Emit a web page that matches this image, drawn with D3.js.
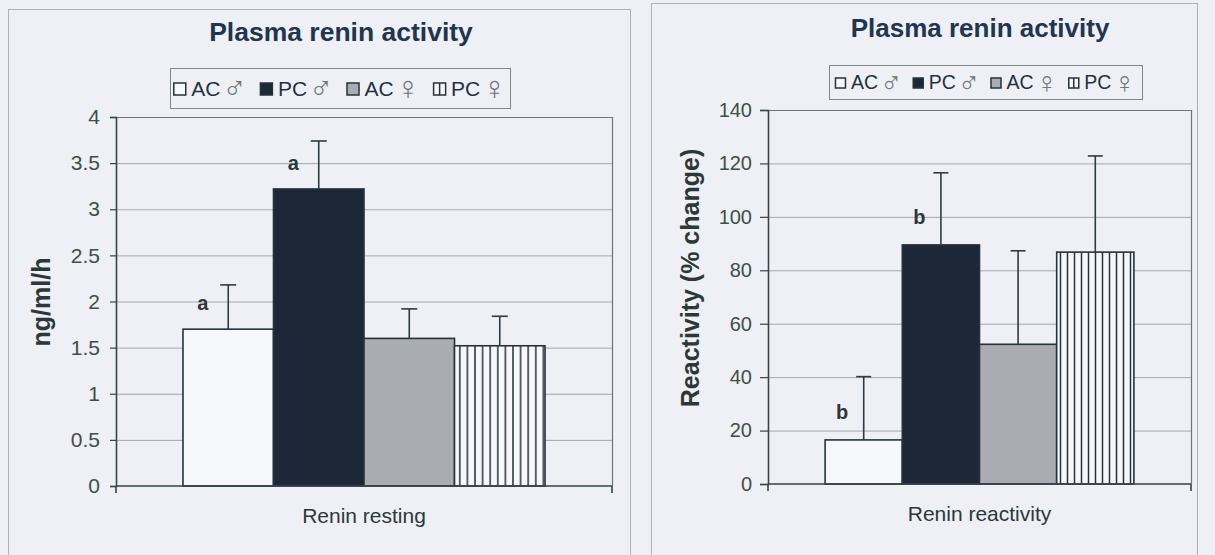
<!DOCTYPE html>
<html>
<head>
<meta charset="utf-8">
<script src="https://cdn.jsdelivr.net/npm/d3@7"></script>
<style>
  html, body { margin: 0; padding: 0; background: #eef0f6; }
  svg { display: block; }
  text { font-family: "Liberation Sans", Arial, Helvetica, sans-serif; }
</style>
</head>
<body>
<svg id="chart" width="1215" height="555"></svg>
<script>
// ---- data ----
const groupNames = ["AC", "PC", "AC", "PC"];
const groupSex = ["\u2642", "\u2642", "\u2640", "\u2640"];
const groupKeys = ["AC-m", "PC-m", "AC-f", "PC-f"];

// plasma renin activity at rest (ng/ml/h), mean and SE
const restingCategory = "Renin resting";
const restingMean = [1.70, 3.22, 1.60, 1.52];
const restingSE = [0.48, 0.52, 0.32, 0.32];
const restingLetters = ["a", "a", "", ""];
const restingTicks = [0, 0.5, 1, 1.5, 2, 2.5, 3, 3.5, 4];

// renin reactivity (% change), mean and SE
const reactCategory = "Renin reactivity";
const reactMean = [16.5, 89.5, 52.3, 86.8];
const reactSE = [23.7, 27.0, 35.0, 36.0];
const reactLetters = ["b", "b", "", ""];
const reactTicks = [0, 20, 40, 60, 80, 100, 120, 140];

const chartTitle = "Plasma renin activity";

// ---- styling ----
const C = {
  frame: "#aeb2b8",
  grid: "#a4a7ae",
  axis: "#34434c",
  border: "#6d767c",
  tick: "#3c4f47",
  title: "#1f3550",
  label: "#2c3838",
  barStroke: "#26323c",
  navy: "#1c2838",
  gray: "#a9acb1",
  white: "#f7f8fb",
  err: "#2e3a44",
  sex: "#6f7777"
};

const svg = d3.select("#chart");
const defs = svg.append("defs");

function addHatch(id, step) {
  const p = defs.append("pattern")
    .attr("id", id)
    .attr("patternUnits", "userSpaceOnUse")
    .attr("width", step).attr("height", 10);
  p.append("rect").attr("width", step).attr("height", 10).attr("fill", C.white);
  p.append("line")
    .attr("x1", step / 2).attr("x2", step / 2)
    .attr("y1", 0).attr("y2", 10)
    .attr("stroke", C.barStroke).attr("stroke-width", 1.5);
}
addHatch("hatchL", 7.6);
addHatch("hatchR", 7.0);

function fillFor(i, hatchId) {
  return [C.white, C.navy, C.gray, `url(#${hatchId})`][i];
}

function drawPanel(cfg) {
  const g = svg.append("g");

  // panel frame
  g.append("rect")
    .attr("x", cfg.frame.x + 0.5).attr("y", cfg.frame.y + 0.5)
    .attr("width", cfg.frame.w).attr("height", cfg.frame.h)
    .attr("fill", "none").attr("stroke", C.frame).attr("stroke-width", 1);

  const y = d3.scaleLinear().domain(cfg.domain).range([cfg.plot.y1, cfg.plot.y0]);
  const cat = d3.scaleBand().domain([cfg.category])
    .range([cfg.plot.x0, cfg.plot.x1]).paddingInner(0).paddingOuter(0.185);
  const x = d3.scaleBand().domain(groupKeys)
    .range([cat(cfg.category), cat(cfg.category) + cat.bandwidth()]).padding(0);
  const bw = x.bandwidth();

  // gridlines
  g.append("g").selectAll("line")
    .data(cfg.ticks.filter(t => t > cfg.domain[0] && t < cfg.domain[1]))
    .join("line")
    .attr("x1", cfg.plot.x0).attr("x2", cfg.plot.x1)
    .attr("y1", d => y(d) + 0.5).attr("y2", d => y(d) + 0.5)
    .attr("stroke", C.grid).attr("stroke-width", 1);

  // plot border (top/right)
  g.append("path")
    .attr("d", `M${cfg.plot.x0},${y(cfg.domain[1]) + 0.5}H${cfg.plot.x1 + 0.5}V${cfg.plot.y1}`)
    .attr("fill", "none").attr("stroke", C.border).attr("stroke-width", 1.2);

  // bars
  const rows = groupKeys.map((k, i) => ({
    key: k, i, mean: cfg.mean[i], se: cfg.se[i], letter: cfg.letters[i]
  }));
  g.append("g").selectAll("rect")
    .data(rows).join("rect")
    .attr("x", d => x(d.key)).attr("width", bw)
    .attr("y", d => y(d.mean)).attr("height", d => y(0) - y(d.mean))
    .attr("fill", d => fillFor(d.i, cfg.hatch))
    .attr("stroke", C.barStroke).attr("stroke-width", 1.6);

  // error bars (upper side)
  const eb = g.append("g").attr("stroke", C.err).attr("stroke-width", 1.6);
  eb.selectAll("line.v").data(rows).join("line").attr("class", "v")
    .attr("x1", d => x(d.key) + bw / 2).attr("x2", d => x(d.key) + bw / 2)
    .attr("y1", d => y(d.mean)).attr("y2", d => y(d.mean + d.se));
  eb.selectAll("line.c").data(rows).join("line").attr("class", "c")
    .attr("x1", d => x(d.key) + bw / 2 - cfg.cap / 2).attr("x2", d => x(d.key) + bw / 2 + cfg.cap / 2)
    .attr("y1", d => y(d.mean + d.se)).attr("y2", d => y(d.mean + d.se));

  // significance letters
  g.append("g").selectAll("text")
    .data(rows.filter(d => d.letter)).join("text")
    .attr("x", d => x(d.key) + bw * 0.22)
    .attr("y", d => y(d.mean) - cfg.letterGap)
    .attr("text-anchor", "middle")
    .attr("font-size", 20).attr("font-weight", "bold")
    .attr("fill", C.label)
    .text(d => d.letter);

  // y axis
  const yAxis = d3.axisLeft(y).tickValues(cfg.ticks).tickFormat(d => String(d))
    .tickSize(cfg.tickLen).tickPadding(cfg.tickPad);
  const ya = g.append("g").attr("transform", `translate(${cfg.plot.x0},0)`).call(yAxis);
  ya.select(".domain").attr("stroke", C.axis).attr("stroke-width", 1.6);
  ya.selectAll(".tick line").attr("stroke", C.axis).attr("stroke-width", 1.2);
  ya.selectAll(".tick text")
    .attr("font-size", cfg.tickFont).attr("fill", C.tick)
    .attr("font-family", "Liberation Sans, Arial, sans-serif");

  // x axis line with boundary ticks
  g.append("path")
    .attr("d", `M${cfg.plot.x0},${y(0)}H${cfg.plot.x1}M${cfg.plot.x0},${y(0)}v7M${cfg.plot.x1},${y(0)}v7`)
    .attr("fill", "none").attr("stroke", C.axis).attr("stroke-width", 1.6);

  g.append("text")
    .attr("x", cat(cfg.category) + cat.bandwidth() / 2).attr("y", cfg.xLabelY)
    .attr("text-anchor", "middle").attr("font-size", 21).attr("fill", C.label)
    .text(cfg.category);

  // y axis title
  g.append("text")
    .attr("transform", `translate(${cfg.yLabel.x},${cfg.yLabel.y}) rotate(-90)`)
    .attr("text-anchor", "middle").attr("font-size", cfg.yLabel.size)
    .attr("font-weight", "bold").attr("fill", C.label)
    .text(cfg.yLabel.text);

  // title
  g.append("text")
    .attr("x", cfg.titlePos.x).attr("y", cfg.titlePos.y)
    .attr("text-anchor", "middle").attr("font-size", cfg.titlePos.size)
    .attr("font-weight", "bold").attr("fill", C.title)
    .text(chartTitle);

  // legend
  const L = cfg.legend;
  g.append("rect")
    .attr("x", L.x + 0.5).attr("y", L.y + 0.5).attr("width", L.w).attr("height", L.h)
    .attr("fill", "none").attr("stroke", "#7d8a88").attr("stroke-width", 1);
  const lg = g.append("g");
  let cx = 0;
  const base = L.h / 2 + L.font * 0.36;
  groupKeys.forEach((k, i) => {
    const sq = L.sq;
    lg.append("rect")
      .attr("x", cx + 0.5).attr("y", L.h / 2 - sq / 2 + 1)
      .attr("width", sq).attr("height", sq)
      .attr("fill", i === 3 ? C.white : fillFor(i, cfg.hatch))
      .attr("stroke", C.barStroke).attr("stroke-width", 1.5);
    if (i === 3) {
      lg.append("line")
        .attr("x1", cx + 0.5 + sq / 2).attr("x2", cx + 0.5 + sq / 2)
        .attr("y1", L.h / 2 - sq / 2 + 1).attr("y2", L.h / 2 + sq / 2 + 1)
        .attr("stroke", C.barStroke).attr("stroke-width", 1.5);
    }
    cx += sq + 6;
    const t = lg.append("text").attr("x", cx).attr("y", base)
      .attr("font-size", L.font).attr("fill", "#223244");
    t.append("tspan").text(groupNames[i]);
    const s = lg.append("text")
      .attr("y", base + L.font * 0.18)
      .attr("fill", C.sex)
      .attr("font-family", "DejaVu Sans, sans-serif")
      .attr("font-size", L.font * 1.55)
      .text(groupSex[i]);
    cx += t.node().getComputedTextLength() + 2;
    s.attr("x", cx);
    cx += s.node().getComputedTextLength() + L.itemGap;
  });
  cx -= L.itemGap;
  lg.attr("transform", `translate(${L.x + (L.w - cx) / 2},${L.y})`);
}

drawPanel({
  frame: { x: 8, y: 9, w: 622, h: 600 },
  plot: { x0: 116, x1: 612, y0: 117, y1: 486 },
  domain: [0, 4],
  ticks: restingTicks,
  category: restingCategory,
  mean: restingMean, se: restingSE, letters: restingLetters,
  hatch: "hatchL",
  cap: 16, letterGap: 19,
  tickLen: 6, tickPad: 10, tickFont: 21,
  xLabelY: 523,
  yLabel: { x: 50, y: 302, size: 25, text: "ng/ml/h" },
  titlePos: { x: 341, y: 41, size: 26.5 },
  legend: { x: 170, y: 68, w: 340, h: 40, sq: 12, font: 21, itemGap: 13 }
});

drawPanel({
  frame: { x: 651, y: 3, w: 546, h: 600 },
  plot: { x0: 768, x1: 1191, y0: 110, y1: 484 },
  domain: [0, 140],
  ticks: reactTicks,
  category: reactCategory,
  mean: reactMean, se: reactSE, letters: reactLetters,
  hatch: "hatchR",
  cap: 15, letterGap: 21,
  tickLen: 8, tickPad: 8, tickFont: 20,
  xLabelY: 521,
  yLabel: { x: 699, y: 278, size: 25, text: "Reactivity (% change)" },
  titlePos: { x: 980, y: 37, size: 26 },
  legend: { x: 829, y: 65, w: 313, h: 34, sq: 10, font: 19.5, itemGap: 10 }
});
</script>
</body>
</html>
